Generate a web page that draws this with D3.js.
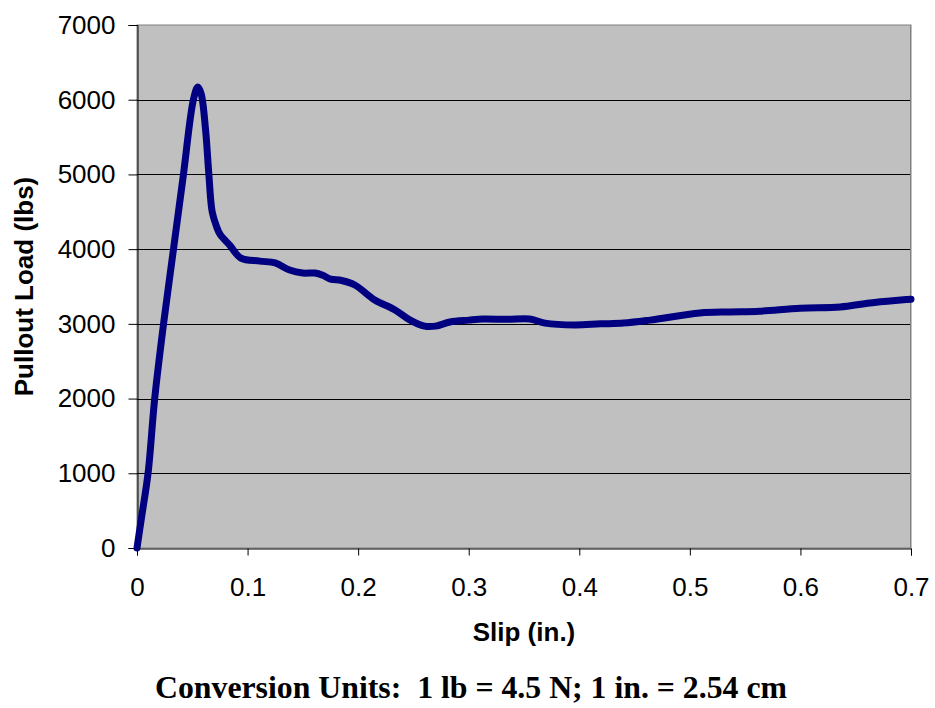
<!DOCTYPE html>
<html><head><meta charset="utf-8">
<script src="https://cdn.jsdelivr.net/npm/d3@7"></script>
<style>body{margin:0;background:#fff}</style>
</head><body>
<svg id="c" width="935" height="708"></svg>
<script>
const slip = [0, 0.004, 0.010, 0.016, 0.024, 0.033, 0.042, 0.051, 0.055, 0.058, 0.062, 0.065, 0.068, 0.072, 0.075, 0.084, 0.094, 0.111, 0.125, 0.138, 0.150, 0.161, 0.168, 0.175, 0.185, 0.197, 0.215, 0.233, 0.247, 0.260, 0.270, 0.283, 0.300, 0.313, 0.335, 0.355, 0.369, 0.396, 0.419, 0.440, 0.464, 0.509, 0.536, 0.563, 0.600, 0.636, 0.663, 0.700];
const load = [0, 400, 1000, 2000, 3000, 4000, 5000, 6000, 6170, 6080, 5600, 5000, 4500, 4300, 4200, 4050, 3880, 3840, 3815, 3720, 3680, 3680, 3650, 3600, 3580, 3520, 3320, 3190, 3050, 2970, 2970, 3025, 3050, 3065, 3060, 3065, 3010, 2985, 3000, 3010, 3050, 3145, 3160, 3170, 3210, 3225, 3280, 3330];
const xTicks = [0, 0.1, 0.2, 0.3, 0.4, 0.5, 0.6, 0.7];
const yTicks = [0, 1000, 2000, 3000, 4000, 5000, 6000, 7000];

const svg = d3.select("#c");
const L = 137, R = 911, T = 25, B = 548;
const x = d3.scaleLinear().domain([0, 0.7]).range([L, R]);
const y = d3.scaleLinear().domain([0, 7000]).range([B, T]);
const SANS = "Liberation Sans, Arial, sans-serif";

svg.append("rect").attr("x", L).attr("y", T).attr("width", R - L).attr("height", B - T)
  .attr("fill", "#c0c0c0").attr("stroke", "#808080").attr("stroke-width", 1);

svg.append("g").selectAll("line").data(yTicks.filter(d => d > 0 && d < 7000)).join("line")
  .attr("x1", L).attr("x2", R).attr("y1", d => Math.round(y(d)) + 0.5).attr("y2", d => Math.round(y(d)) + 0.5)
  .attr("stroke", "#000").attr("stroke-width", 1);

const yAxis = svg.append("g").attr("transform", `translate(${L + 0.5},0)`)
  .call(d3.axisLeft(y).tickValues(yTicks).tickSize(9).tickPadding(13).tickFormat(d3.format("d")));
const xAxis = svg.append("g").attr("transform", `translate(0,${B + 0.5})`)
  .call(d3.axisBottom(x).tickValues(xTicks).tickSize(7).tickPadding(22).tickFormat(d => d === 0 ? "0" : d3.format(".1f")(d)));
[yAxis, xAxis].forEach(a => {
  a.selectAll("text").attr("font-family", SANS).attr("font-size", 26).attr("fill", "#000");
  a.select(".domain").attr("stroke", "#000");
  a.selectAll(".tick line").attr("stroke", "#000");
});
svg.append("line").attr("x1", R - 0.5).attr("x2", R - 0.5).attr("y1", T).attr("y2", B).attr("stroke", "#808080");

const pts = slip.map((s, i) => [s, load[i]]);
svg.append("path").datum(pts)
  .attr("d", d3.line().x(d => x(d[0])).y(d => y(d[1])).curve(d3.curveCatmullRom.alpha(0.5)))
  .attr("fill", "none").attr("stroke", "#000080").attr("stroke-width", 7)
  .attr("stroke-linejoin", "round").attr("stroke-linecap", "round");

svg.append("text").attr("transform", `translate(33,${(T + B) / 2}) rotate(-90)`)
  .attr("text-anchor", "middle").attr("font-family", SANS)
  .attr("font-weight", "bold").attr("font-size", 26).text("Pullout Load (lbs)");
svg.append("text").attr("x", (L + R) / 2).attr("y", 641).attr("text-anchor", "middle")
  .attr("font-family", SANS).attr("font-weight", "bold").attr("font-size", 26)
  .text("Slip (in.)");
svg.append("text").attr("x", 155).attr("y", 698).style("white-space", "pre")
  .attr("font-family", "Liberation Serif, Times New Roman, serif").attr("font-weight", "bold").attr("font-size", 31)
  .attr("textLength", 632).attr("lengthAdjust", "spacingAndGlyphs")
  .text("Conversion Units:  1 lb = 4.5 N; 1 in. = 2.54 cm");
</script>
</body></html>
